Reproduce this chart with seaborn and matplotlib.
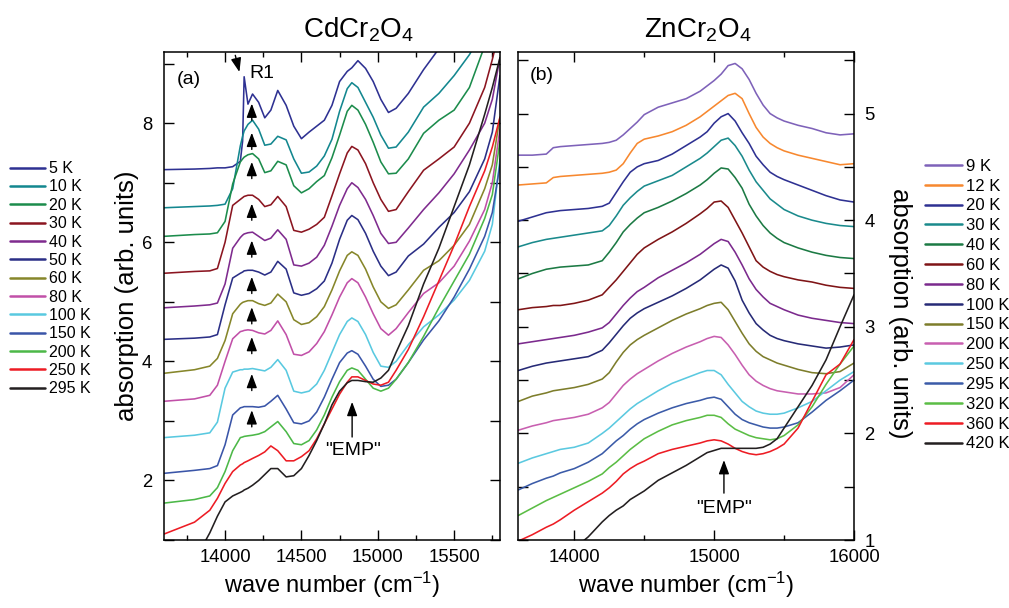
import matplotlib
matplotlib.use("Agg")
import matplotlib.pyplot as plt
import pandas as pd
import seaborn as sns
from matplotlib.ticker import MultipleLocator

# ---------------- CdCr2O4, panel (a) ----------------
wn_cd = [13600, 13800, 13900, 13950, 14000, 14050, 14100, 14115, 14125, 14150,
         14180, 14220, 14260, 14300, 14345, 14400, 14450, 14500, 14550, 14600,
         14650, 14700, 14750, 14800, 14830, 14870, 14920, 14970, 15020, 15070,
         15120, 15200, 15300, 15400, 15500, 15600, 15700, 15750, 15800]

cd_5K = [7.22, 7.23, 7.24, 7.25, 7.25, 7.27, 7.36, 7.70, 8.78, 8.32, 8.49, 8.35, 8.09, 8.22, 8.55, 8.30, 7.95, 7.74, 7.85, 7.95,
         8.05, 8.30, 8.70, 8.87, 8.93, 9.05, 8.92, 8.70, 8.40, 8.18, 8.25, 8.50, 8.90, 9.25, 9.60, 9.90, 10.2, 10.4, 10.6]
cd_10K = [6.58, 6.60, 6.61, 6.62, 6.64, 6.90, 7.62, 7.78, 7.87, 7.98, 8.05, 7.90, 7.63, 7.65, 7.78, 7.72, 7.40, 7.16, 7.18, 7.28,
          7.45, 7.73, 8.20, 8.58, 8.68, 8.60, 8.35, 8.10, 7.80, 7.58, 7.60, 7.85, 8.27, 8.50, 8.80, 9.15, 9.60, 9.80, 10.0]
cd_20K = [6.10, 6.13, 6.14, 6.16, 6.35, 6.98, 7.35, 7.40, 7.43, 7.47, 7.49, 7.40, 7.17, 7.20, 7.36, 7.30, 6.95, 6.83, 6.90, 7.02,
          7.12, 7.42, 7.80, 8.20, 8.30, 8.22, 7.98, 7.68, 7.35, 7.15, 7.16, 7.40, 7.83, 8.05, 8.22, 8.60, 9.30, 9.60, 9.90]
cd_30K = [5.48, 5.51, 5.52, 5.56, 6.00, 6.62, 6.72, 6.75, 6.77, 6.79, 6.79, 6.72, 6.60, 6.63, 6.77, 6.60, 6.20, 6.17, 6.22, 6.30,
          6.42, 6.78, 7.15, 7.50, 7.61, 7.55, 7.32, 7.00, 6.72, 6.52, 6.55, 6.85, 7.21, 7.40, 7.60, 8.00, 8.60, 9.07, 9.60]
cd_40K = [4.90, 4.93, 4.95, 4.98, 5.30, 5.90, 6.08, 6.12, 6.14, 6.16, 6.17, 6.10, 6.03, 6.07, 6.21, 6.05, 5.62, 5.60, 5.65, 5.75,
          5.95, 6.27, 6.62, 6.90, 7.00, 6.92, 6.72, 6.45, 6.15, 5.98, 6.00, 6.24, 6.55, 6.83, 7.15, 7.55, 8.00, 8.40, 9.10]
cd_50K = [4.37, 4.39, 4.41, 4.45, 4.95, 5.40, 5.48, 5.50, 5.52, 5.53, 5.53, 5.50, 5.45, 5.50, 5.68, 5.55, 5.15, 5.11, 5.14, 5.22,
          5.35, 5.65, 6.05, 6.37, 6.45, 6.38, 6.15, 5.85, 5.60, 5.44, 5.50, 5.77, 5.97, 6.25, 6.50, 6.85, 7.40, 7.85, 8.80]
cd_60K = [3.80, 3.86, 3.92, 4.05, 4.35, 4.80, 4.96, 4.99, 5.00, 5.02, 5.02, 4.97, 4.94, 4.98, 5.13, 5.00, 4.70, 4.62, 4.65, 4.75,
          4.92, 5.20, 5.52, 5.78, 5.84, 5.78, 5.55, 5.25, 5.00, 4.89, 4.95, 5.20, 5.53, 5.69, 5.95, 6.30, 6.90, 7.30, 8.10]
cd_80K = [3.33, 3.37, 3.43, 3.60, 4.00, 4.38, 4.50, 4.51, 4.52, 4.53, 4.52, 4.48, 4.46, 4.52, 4.68, 4.45, 4.12, 4.10, 4.16, 4.30,
          4.50, 4.78, 5.08, 5.32, 5.39, 5.32, 5.08, 4.80, 4.55, 4.44, 4.55, 4.82, 5.14, 5.32, 5.60, 6.02, 6.55, 7.00, 7.90]
cd_100K = [2.72, 2.76, 2.80, 2.98, 3.55, 3.82, 3.86, 3.86, 3.87, 3.87, 3.88, 3.86, 3.84, 3.90, 4.03, 3.85, 3.50, 3.47, 3.50, 3.62,
           3.85, 4.15, 4.45, 4.67, 4.73, 4.67, 4.45, 4.15, 3.92, 3.90, 4.00, 4.28, 4.58, 4.78, 5.03, 5.36, 5.85, 6.30, 7.40]
cd_150K = [2.12, 2.17, 2.20, 2.25, 2.60, 3.10, 3.22, 3.23, 3.24, 3.24, 3.24, 3.23, 3.25, 3.33, 3.43, 3.20, 2.97, 2.95, 3.00, 3.15,
           3.40, 3.70, 3.98, 4.14, 4.18, 4.12, 3.92, 3.70, 3.58, 3.60, 3.70, 3.98, 4.36, 4.68, 5.08, 5.55, 6.10, 6.50, 7.30]
cd_200K = [1.62, 1.68, 1.74, 1.88, 2.15, 2.50, 2.72, 2.73, 2.74, 2.75, 2.76, 2.78, 2.82, 2.90, 2.99, 2.82, 2.62, 2.60, 2.67, 2.85,
           3.10, 3.40, 3.66, 3.85, 3.89, 3.85, 3.70, 3.55, 3.50, 3.55, 3.70, 3.98, 4.42, 4.90, 5.35, 5.80, 6.40, 6.80, 7.70]
cd_250K = [1.10, 1.30, 1.50, 1.70, 1.95, 2.15, 2.26, 2.28, 2.30, 2.33, 2.37, 2.42, 2.48, 2.58, 2.50, 2.33, 2.33, 2.40, 2.50, 2.70,
           2.95, 3.20, 3.45, 3.65, 3.74, 3.74, 3.68, 3.62, 3.60, 3.65, 3.85, 4.20, 4.75, 5.35, 5.95, 6.60, 7.20, 7.60, 8.10]
cd_295K = [0.20, 0.65, 1.12, 1.40, 1.64, 1.74, 1.80, 1.82, 1.84, 1.87, 1.92, 2.00, 2.10, 2.20, 2.20, 2.06, 2.08, 2.20, 2.42, 2.67,
           2.95, 3.27, 3.50, 3.64, 3.68, 3.68, 3.66, 3.65, 3.72, 3.85, 4.15, 4.60, 5.30, 5.90, 6.60, 7.30, 8.15, 8.60, 9.10]

cd_labels = ["5 K", "10 K", "20 K", "30 K", "40 K", "50 K", "60 K", "80 K",
             "100 K", "150 K", "200 K", "250 K", "295 K"]
cd_colors = ["#2e3192", "#13878f", "#1c8c4c", "#8b1520", "#7f2b8e", "#2b2f86", "#86862a",
             "#c150a8", "#59c9e0", "#3a55a8", "#4cb848", "#ed1c24", "#231f20"]
cd_curves = [cd_5K, cd_10K, cd_20K, cd_30K, cd_40K, cd_50K, cd_60K, cd_80K,
             cd_100K, cd_150K, cd_200K, cd_250K, cd_295K]

# arrows marking R1 on each spectrum (tip heights)
r1_x = 14175
r1_tips = [8.33, 7.84, 7.35, 6.65, 6.03, 5.42, 4.91, 4.41, 3.79, 3.18]

# ---------------- ZnCr2O4, panel (b) ----------------
wn_zn = [13600, 13700, 13800, 13850, 13900, 14000, 14100, 14200, 14250, 14300,
         14350, 14400, 14450, 14500, 14600, 14700, 14800, 14900, 14950, 15000,
         15050, 15100, 15150, 15200, 15250, 15300, 15350, 15400, 15450, 15500,
         15600, 15700, 15800, 15900, 16000]

zn_9K = [4.61, 4.61, 4.62, 4.68, 4.69, 4.70, 4.71, 4.72, 4.73, 4.75, 4.80, 4.86, 4.92, 4.99, 5.06, 5.10, 5.14, 5.21,
         5.26, 5.31, 5.37, 5.45, 5.47, 5.42, 5.32, 5.19, 5.08, 5.00, 4.96, 4.93, 4.89, 4.86, 4.82, 4.80, 4.81]
zn_12K = [4.33, 4.34, 4.35, 4.40, 4.41, 4.42, 4.43, 4.44, 4.45, 4.47, 4.53, 4.63, 4.72, 4.76, 4.79, 4.83, 4.89, 4.97,
          5.02, 5.07, 5.12, 5.17, 5.19, 5.14, 5.00, 4.87, 4.78, 4.72, 4.68, 4.65, 4.61, 4.58, 4.55, 4.52, 4.53]
zn_20K = [3.99, 4.03, 4.07, 4.08, 4.09, 4.10, 4.11, 4.13, 4.16, 4.26, 4.36, 4.45, 4.50, 4.53, 4.56, 4.62, 4.70, 4.78,
          4.83, 4.91, 4.97, 5.00, 4.93, 4.82, 4.72, 4.60, 4.52, 4.45, 4.41, 4.38, 4.33, 4.28, 4.23, 4.19, 4.17]
zn_30K = [3.75, 3.79, 3.82, 3.83, 3.84, 3.86, 3.88, 3.90, 3.95, 4.04, 4.14, 4.21, 4.27, 4.32, 4.37, 4.42, 4.50, 4.58,
          4.63, 4.69, 4.75, 4.77, 4.70, 4.60, 4.47, 4.36, 4.28, 4.20, 4.15, 4.10, 4.04, 4.00, 3.97, 3.95, 3.94]
zn_40K = [3.45, 3.50, 3.54, 3.55, 3.56, 3.57, 3.58, 3.62, 3.70, 3.79, 3.89, 3.96, 4.02, 4.07, 4.12, 4.18, 4.25, 4.33,
          4.38, 4.44, 4.49, 4.48, 4.40, 4.30, 4.15, 4.04, 3.95, 3.88, 3.83, 3.79, 3.74, 3.70, 3.67, 3.65, 3.64]
zn_60K = [3.16, 3.18, 3.19, 3.20, 3.20, 3.22, 3.25, 3.30, 3.37, 3.44, 3.52, 3.60, 3.68, 3.74, 3.82, 3.89, 3.97, 4.06,
          4.11, 4.17, 4.18, 4.12, 4.00, 3.88, 3.75, 3.62, 3.56, 3.52, 3.49, 3.47, 3.44, 3.42, 3.39, 3.37, 3.36]
zn_80K = [2.84, 2.86, 2.88, 2.89, 2.90, 2.92, 2.95, 2.99, 3.04, 3.12, 3.20, 3.27, 3.33, 3.37, 3.46, 3.53, 3.60, 3.68,
          3.73, 3.78, 3.82, 3.80, 3.70, 3.58, 3.45, 3.35, 3.28, 3.22, 3.19, 3.16, 3.11, 3.08, 3.06, 3.04, 3.03]
zn_100K = [2.59, 2.63, 2.66, 2.67, 2.68, 2.70, 2.72, 2.78, 2.85, 2.93, 3.01, 3.08, 3.13, 3.17, 3.23, 3.29, 3.36, 3.44,
           3.49, 3.54, 3.58, 3.55, 3.43, 3.25, 3.13, 3.03, 2.97, 2.92, 2.89, 2.87, 2.84, 2.82, 2.80, 2.81, 2.83]
zn_150K = [2.30, 2.35, 2.38, 2.40, 2.41, 2.43, 2.46, 2.51, 2.57, 2.67, 2.76, 2.83, 2.88, 2.92, 2.99, 3.06, 3.12, 3.17,
           3.20, 3.22, 3.23, 3.16, 3.05, 2.94, 2.84, 2.77, 2.72, 2.69, 2.66, 2.64, 2.60, 2.57, 2.56, 2.58, 2.66]
zn_200K = [2.03, 2.07, 2.10, 2.12, 2.13, 2.15, 2.18, 2.24, 2.29, 2.37, 2.45, 2.51, 2.56, 2.60, 2.68, 2.75, 2.81, 2.86,
           2.89, 2.91, 2.90, 2.83, 2.74, 2.64, 2.55, 2.49, 2.45, 2.42, 2.40, 2.39, 2.37, 2.37, 2.38, 2.43, 2.55]
zn_250K = [1.72, 1.77, 1.81, 1.83, 1.85, 1.87, 1.91, 2.00, 2.05, 2.11, 2.17, 2.23, 2.28, 2.32, 2.40, 2.47, 2.52, 2.57,
           2.59, 2.59, 2.55, 2.46, 2.38, 2.30, 2.25, 2.21, 2.19, 2.18, 2.18, 2.19, 2.24, 2.30, 2.40, 2.50, 2.58]
zn_295K = [1.47, 1.53, 1.58, 1.60, 1.63, 1.67, 1.73, 1.81, 1.87, 1.93, 1.98, 2.04, 2.09, 2.13, 2.19, 2.24, 2.28, 2.31,
           2.33, 2.34, 2.32, 2.25, 2.18, 2.13, 2.10, 2.08, 2.06, 2.05, 2.05, 2.06, 2.10, 2.20, 2.31, 2.40, 2.50]
zn_320K = [1.23, 1.30, 1.37, 1.40, 1.43, 1.49, 1.55, 1.62, 1.68, 1.73, 1.79, 1.85, 1.90, 1.95, 2.02, 2.08, 2.12, 2.15,
           2.17, 2.17, 2.15, 2.09, 2.04, 2.01, 1.98, 1.96, 1.95, 1.94, 1.95, 1.98, 2.08, 2.25, 2.46, 2.65, 2.82]
zn_360K = [0.99, 1.05, 1.12, 1.15, 1.19, 1.28, 1.36, 1.44, 1.49, 1.55, 1.62, 1.67, 1.71, 1.74, 1.81, 1.85, 1.88, 1.91,
           1.93, 1.94, 1.93, 1.90, 1.86, 1.83, 1.81, 1.80, 1.81, 1.83, 1.86, 1.90, 2.05, 2.30, 2.55, 2.65, 2.88]
zn_420K = [0.50, 0.60, 0.70, 0.75, 0.80, 0.92, 1.03, 1.17, 1.23, 1.28, 1.32, 1.38, 1.42, 1.46, 1.56, 1.63, 1.70, 1.78,
           1.82, 1.84, 1.86, 1.86, 1.86, 1.86, 1.86, 1.86, 1.87, 1.90, 1.95, 2.05, 2.25, 2.45, 2.69, 3.00, 3.30]

zn_labels = ["9 K", "12 K", "20 K", "30 K", "40 K", "60 K", "80 K", "100 K",
             "150 K", "200 K", "250 K", "295 K", "320 K", "360 K", "420 K"]
zn_colors = ["#7e62b9", "#f7882f", "#2e3192", "#1a8a8c", "#1c7a44", "#7f1416", "#7b2a8d",
             "#262a76", "#7d7d2b", "#c85fb0", "#5bc9e0", "#3b5ba8", "#5bbd45", "#ed1c24", "#231f20"]
zn_curves = [zn_9K, zn_12K, zn_20K, zn_30K, zn_40K, zn_60K, zn_80K, zn_100K,
             zn_150K, zn_200K, zn_250K, zn_295K, zn_320K, zn_360K, zn_420K]


def long_frame(wn, curves, labels):
    parts = [pd.DataFrame({"wn": wn, "absorption": ys, "T": lab})
             for lab, ys in zip(labels, curves)]
    return pd.concat(parts, ignore_index=True)


sns.set_theme(style="ticks")
plt.rcParams["font.family"] = ["Liberation Sans", "DejaVu Sans"]
plt.rcParams["mathtext.default"] = "regular"
for key in ["axes.edgecolor", "xtick.color", "ytick.color", "text.color", "axes.labelcolor"]:
    plt.rcParams[key] = "black"

fig = plt.figure(figsize=(10.09, 6.08), dpi=100)
ax1 = fig.add_axes([0.1625, 0.1118, 0.3330, 0.8031])
ax2 = fig.add_axes([0.5137, 0.1118, 0.3327, 0.8031])

df_cd = long_frame(wn_cd, cd_curves, cd_labels)
df_zn = long_frame(wn_zn, zn_curves, zn_labels)

sns.lineplot(data=df_cd, x="wn", y="absorption", hue="T", hue_order=cd_labels,
             palette=dict(zip(cd_labels, cd_colors)), estimator=None, sort=False,
             linewidth=1.15, ax=ax1)
sns.lineplot(data=df_zn, x="wn", y="absorption", hue="T", hue_order=zn_labels,
             palette=dict(zip(zn_labels, zn_colors)), estimator=None, sort=False,
             linewidth=1.15, ax=ax2)

# move legends outside, to the figure margins
for ax, anchor, fs, sp in [(ax1, (0.0099, 0.735), 11.5, 0.21), (ax2, (0.9167, 0.739), 12, 0.29)]:
    leg = ax.get_legend()
    handles = leg.legend_handles
    labels = [t.get_text() for t in leg.get_texts()]
    leg.remove()
    for h in handles:
        h.set_linewidth(1.8)
    fig.legend(handles, labels, loc="upper left", bbox_to_anchor=anchor, frameon=False,
               fontsize=fs, handlelength=2.2, handletextpad=0.25, labelspacing=sp,
               borderpad=0, borderaxespad=0)

# axes styling
for ax in (ax1, ax2):
    ax.tick_params(which="both", direction="in", top=True, right=True, width=1.0,
                   labelsize=13.3)
    ax.tick_params(which="major", length=7)
    ax.tick_params(which="minor", length=3.6)
    ax.tick_params(axis="x", pad=6.5)
    for sp in ax.spines.values():
        sp.set_linewidth(1.1)

ax1.set_xlim(13600, 15800)
ax1.set_ylim(1.0, 9.2)
ax1.xaxis.set_major_locator(MultipleLocator(500))
ax1.xaxis.set_minor_locator(MultipleLocator(250))
ax1.yaxis.set_major_locator(MultipleLocator(2))
ax1.yaxis.set_minor_locator(MultipleLocator(1))
ax1.tick_params(axis="y", which="minor", length=7)
ax1.tick_params(axis="y", pad=8.5)

ax2.set_xlim(13600, 16000)
ax2.set_ylim(1.0, 5.58)
ax2.xaxis.set_major_locator(MultipleLocator(1000))
ax2.xaxis.set_minor_locator(MultipleLocator(500))
ax2.yaxis.set_major_locator(MultipleLocator(1))
ax2.yaxis.set_minor_locator(MultipleLocator(0.5))
ax2.tick_params(axis="y", which="minor", length=7)
ax2.tick_params(axis="y", labelleft=False, labelright=True, pad=7.5)

ax1.set_xlabel("wave number (cm$^{-1}$)", fontsize=17, va="center")
ax2.set_xlabel("wave number (cm$^{-1}$)", fontsize=17, va="center")
ax1.xaxis.set_label_coords(0.5, -0.092)
ax2.xaxis.set_label_coords(0.5, -0.092)
ax1.set_ylabel("absorption (arb. units)", fontsize=18.5, va="center")
ax1.yaxis.set_label_coords(-0.110, 0.5)
ax2.yaxis.set_label_position("right")
ax2.set_ylabel("absorption (arb. units)", fontsize=18.5, rotation=270,
               va="center", ha="center", rotation_mode="anchor")
ax2.yaxis.set_label_coords(1.137, 0.465)

fig.text(358 / 1009, 1 - 30 / 608, "CdCr$_2$O$_4$", ha="center", va="center", fontsize=20)
fig.text(698 / 1009, 1 - 30 / 608, "ZnCr$_2$O$_4$", ha="center", va="center", fontsize=20)

ax1.text(0.039, 0.943, "(a)", transform=ax1.transAxes, ha="left", va="center", fontsize=14)
ax2.text(0.035, 0.951, "(b)", transform=ax2.transAxes, ha="left", va="center", fontsize=14)

arrow_kw = dict(arrowstyle="-|>,head_length=0.7,head_width=0.26", color="black",
                lw=1.0, shrinkA=0, shrinkB=0)
for tip in r1_tips:
    ax1.annotate("", xy=(r1_x, tip), xytext=(r1_x, tip - 0.28), arrowprops=arrow_kw)
ax1.annotate("", xy=(14094, 8.86), xytext=(14067, 9.14), arrowprops=arrow_kw)
ax1.text(14240, 8.835, "R1", ha="center", va="center", fontsize=14)

ax1.annotate("", xy=(14832, 3.32), xytext=(14832, 2.73), arrowprops=arrow_kw)
ax1.text(14838, 2.50, '"EMP"', ha="center", va="center", fontsize=14)
ax2.annotate("", xy=(15070, 1.75), xytext=(15070, 1.44), arrowprops=arrow_kw)
ax2.text(15070, 1.30, '"EMP"', ha="center", va="center", fontsize=14)

fig.savefig("out.png", dpi=100)
